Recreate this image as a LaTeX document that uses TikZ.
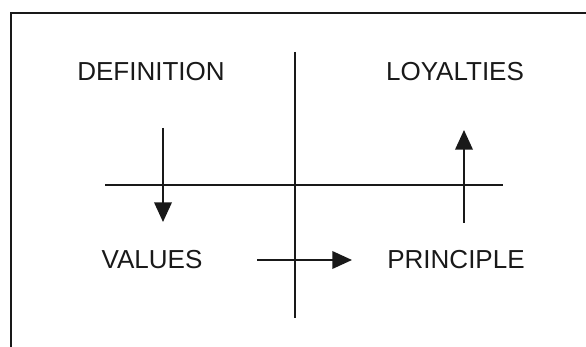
\documentclass[tikz,border=0pt]{standalone}
\usepackage{fontspec}
\setmainfont{Liberation Sans}
\usetikzlibrary{arrows.meta, positioning}

\begin{document}
\begin{tikzpicture}[x=0.025cm, y=-0.025cm,
    label/.style={font=\fontsize{18.5}{22}\selectfont, inner sep=0pt, text=black!90},
    axis/.style={line width=1.3pt, black!90},
    flow/.style={line width=1.3pt, black!90, -{Triangle[length=14pt, width=12.5pt]}}]
  \useasboundingbox (0,0) rectangle (586,347);
  % Marco
  \draw[line width=1.4pt, black!90] (586,13) -- (11,13) -- (11,347);
  % Ejes
  \draw[axis] (295,52) -- (295,318);
  \draw[axis] (105,185) -- (503,185);
  % Textos
  \node[label] (def) at (151,72) {DEFINITION};
  \node[label] (loy) at (455,72) {LOYALTIES};
  \node[label] (val) at (152,260) {VALUES};
  \node[label] (pri) at (456,260) {PRINCIPLE};
  % Puntos de las flechas
  \coordinate (d1) at (163,128);
  \coordinate (d2) at (163,222);
  \coordinate (u1) at (464,223);
  \coordinate (u2) at (464,130);
  \coordinate (r1) at (257,260);
  \coordinate (r2) at (352,260);
  % Flechas
  \draw[flow] (d1) -- (d2);
  \draw[flow] (u1) -- (u2);
  \draw[flow] (r1) -- (r2);
\end{tikzpicture}
\end{document}
